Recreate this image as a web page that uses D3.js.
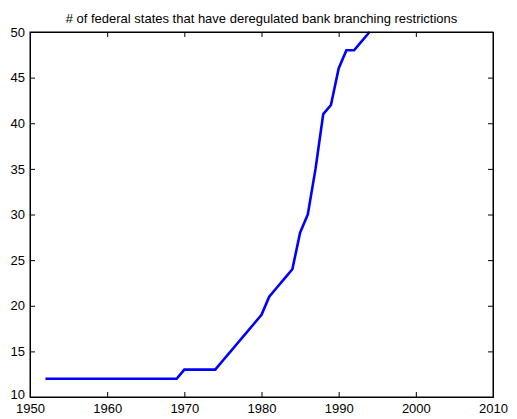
<!DOCTYPE html>
<html>
<head>
<meta charset="utf-8">
<script src="https://cdn.jsdelivr.net/npm/d3@7"></script>
<style>
  html, body { margin: 0; padding: 0; background: #fff; }
  svg { display: block; }
  text { font-family: "Liberation Sans", Arial, Helvetica, sans-serif; fill: #000; }
</style>
</head>
<body>
<svg id="chart" width="517" height="419"></svg>
<script>
const title = "# of federal states that have deregulated bank branching restrictions";
const years = [1952, 1969, 1970, 1974, 1975, 1976, 1977, 1978, 1979, 1980, 1981, 1982, 1983, 1984, 1985, 1986, 1987, 1988, 1989, 1990, 1991, 1992, 1993, 1994];
const states = [12, 12, 13, 13, 14, 15, 16, 17, 18, 19, 21, 22, 23, 24, 28, 30, 35, 41, 42, 46, 48, 48, 49, 50];
const xTicks = [1950, 1960, 1970, 1980, 1990, 2000, 2010];
const yTicks = [10, 15, 20, 25, 30, 35, 40, 45, 50];

const svg = d3.select("#chart");
const L = 30, R = 493, T = 32, B = 397;
const x = d3.scaleLinear().domain([1950, 2010]).range([L, R]);
const y = d3.scaleLinear().domain([10, 50]).range([B, T]);
const tl = 5;
const fs = 13;

// data line
const data = years.map((d, i) => ({ year: d, v: states[i] }));
svg.append("path")
  .datum(data)
  .attr("fill", "none")
  .attr("stroke", "#0000ff")
  .attr("stroke-width", 2.6)
  .attr("stroke-linejoin", "miter")
  .attr("d", d3.line().x(d => x(d.year)).y(d => y(d.v)));

// box
svg.append("rect")
  .attr("x", L).attr("y", T).attr("width", R - L).attr("height", B - T)
  .attr("fill", "none").attr("stroke", "#000").attr("stroke-width", 1);

// axes (inward ticks on all four sides)
const fmt = d3.format("d");
const gB = svg.append("g").attr("transform", `translate(0,${B})`)
  .call(d3.axisBottom(x).tickValues(xTicks).tickFormat(fmt).tickSize(-tl).tickPadding(7));
const gT = svg.append("g").attr("transform", `translate(0,${T})`)
  .call(d3.axisTop(x).tickValues(xTicks).tickFormat("").tickSize(-tl));
const gL = svg.append("g").attr("transform", `translate(${L},0)`)
  .call(d3.axisLeft(y).tickValues(yTicks).tickFormat(fmt).tickSize(-tl).tickPadding(5));
const gR = svg.append("g").attr("transform", `translate(${R},0)`)
  .call(d3.axisRight(y).tickValues(yTicks).tickFormat("").tickSize(-tl));

[gB, gT, gL, gR].forEach(g => {
  g.select(".domain").attr("stroke", "#000").attr("stroke-width", 1);
  g.selectAll(".tick line").attr("stroke", "#000").attr("stroke-width", 1);
  g.selectAll(".tick text").attr("font-size", fs).attr("font-family", "Liberation Sans, Arial, sans-serif").attr("fill", "#000");
});
gL.selectAll(".tick text").attr("x", -5);
// lowest y label sits just above the first x label (as in the reference)
gL.selectAll(".tick").filter(d => d === yTicks[0]).select("text").attr("y", -3);

// title
svg.append("text")
  .attr("x", (L + R) / 2).attr("y", T - 9.5)
  .attr("text-anchor", "middle")
  .attr("font-size", fs)
  .text(title);
</script>
</body>
</html>
